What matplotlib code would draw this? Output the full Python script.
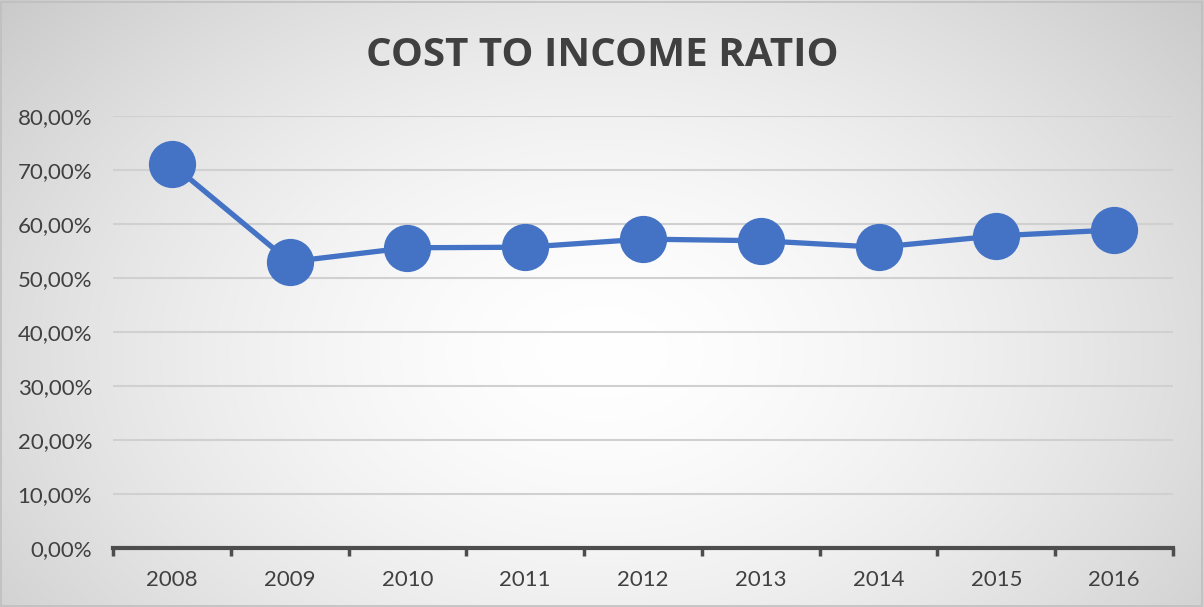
import numpy as np
import matplotlib
matplotlib.use("Agg")
import matplotlib.pyplot as plt
from matplotlib.ticker import FuncFormatter, FixedLocator

years = ["2008", "2009", "2010", "2011", "2012", "2013", "2014", "2015", "2016"]
ratio = [71.1, 53.0, 55.6, 55.7, 57.2, 56.9, 55.7, 57.8, 58.9]
title = "COST TO INCOME RATIO"

W, H = 1204, 607
fig = plt.figure(figsize=(W / 100, H / 100), dpi=100)

# radial gradient background
bg = fig.add_axes([0, 0, 1, 1], zorder=-10)
yy, xx = np.mgrid[0:H, 0:W]
r = np.sqrt(((xx - W * 0.5) / (W * 0.55)) ** 2 + ((yy - H * 0.58) / (H * 0.75)) ** 2)
shade = 1.0 - 0.24 * np.clip(r, 0, 1.3) ** 1.6 / 1.3 ** 1.6
bg.imshow(np.dstack([shade] * 3), aspect="auto", extent=[0, 1, 0, 1], origin="upper")
bg.axis("off")
bg.add_patch(plt.Rectangle((0.001, 0.002), 0.997, 0.995, fill=False, ec="#bfbfbf", lw=1.2,
                           transform=bg.transAxes))

ax = fig.add_axes([113 / W, (H - 548) / H, (1173 - 113) / W, (548 - 116) / H])
ax.patch.set_alpha(0)
x = np.arange(len(years))
ax.plot(x, ratio, color="#4472C4", lw=3.8, marker="o", markersize=34, markeredgewidth=0, zorder=3)

ax.set_xlim(-0.5, len(years) - 0.5)
ax.set_ylim(0, 80)
ax.yaxis.set_major_locator(FixedLocator(np.arange(0, 81, 10)))
ax.yaxis.set_major_formatter(FuncFormatter(lambda v, p: f"{v:.2f}".replace(".", ",") + "%"))
ax.grid(axis="y", color="#d0d0d0", lw=1.5)
ax.set_axisbelow(True)

ax.set_xticks(x)
ax.set_xticklabels(years)
ax.set_xticks(np.arange(-0.5, len(years)), minor=True)
ax.tick_params(axis="x", which="major", length=0, pad=16, labelsize=16, labelcolor="#404040")
ax.tick_params(axis="x", which="minor", length=6, width=2.5, color="#4d4d4d", direction="out")
ax.tick_params(axis="y", length=0, pad=15, labelsize=16, labelcolor="#404040")
for lab in ax.get_xticklabels() + ax.get_yticklabels():
    lab.set_family("Lato")

for s in ["top", "right", "left"]:
    ax.spines[s].set_visible(False)
ax.spines["bottom"].set_color("#4d4d4d")
ax.spines["bottom"].set_linewidth(3)

fig.text(0.5, (H - 55) / H, title, ha="center", va="center", fontsize=29, fontweight="bold",
         color="#404040", family="Open Sans")

fig.savefig("out.png", dpi=100)
